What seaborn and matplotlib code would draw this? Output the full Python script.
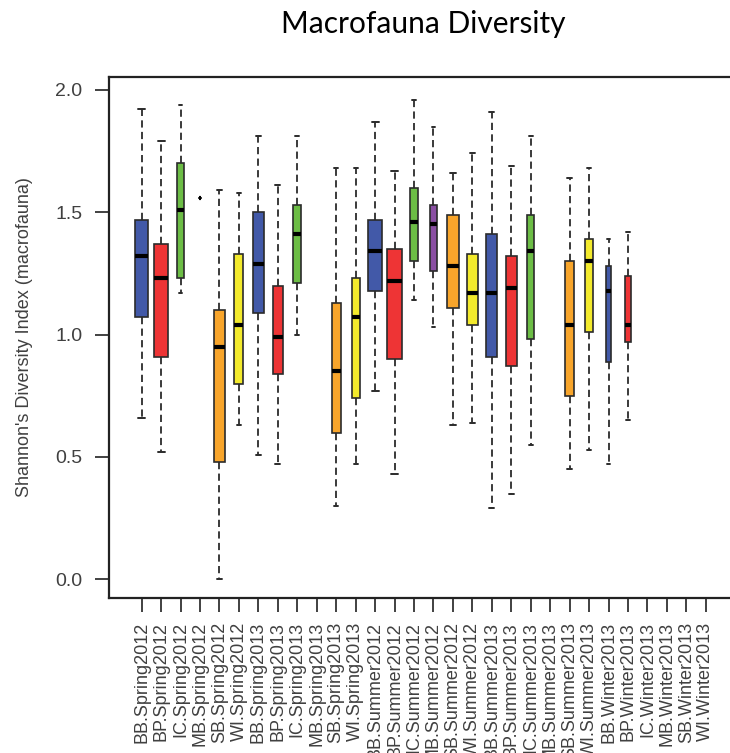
import numpy as np
import pandas as pd
import matplotlib
matplotlib.use("Agg")
import matplotlib.pyplot as plt
import seaborn as sns

# Sampling units: site x season/year
categories = [
    "BB.Spring2012", "BP.Spring2012", "IC.Spring2012", "MB.Spring2012", "SB.Spring2012", "WI.Spring2012",
    "BB.Spring2013", "BP.Spring2013", "IC.Spring2013", "MB.Spring2013", "SB.Spring2013", "WI.Spring2013",
    "BB.Summer2012", "BP.Summer2012", "IC.Summer2012", "MB.Summer2012", "SB.Summer2012", "WI.Summer2012",
    "BB.Summer2013", "BP.Summer2013", "IC.Summer2013", "MB.Summer2013", "SB.Summer2013", "WI.Summer2013",
    "BB.Winter2013", "BP.Winter2013", "IC.Winter2013", "MB.Winter2013", "SB.Winter2013", "WI.Winter2013",
]

nan = np.nan
# Five-number summaries of Shannon's H' (whisker ends, quartiles, median)
h_min = [0.66, 0.52, 1.17, 1.56, 0.00, 0.63, 0.51, 0.47, 1.00, nan, 0.30, 0.47,
         0.77, 0.43, 1.14, 1.03, 0.63, 0.64, 0.29, 0.35, 0.55, nan, 0.45, 0.53,
         0.47, 0.65, nan, nan, nan, nan]
h_q1 = [1.07, 0.91, 1.23, 1.56, 0.48, 0.80, 1.09, 0.84, 1.21, nan, 0.60, 0.74,
        1.18, 0.90, 1.30, 1.26, 1.11, 1.04, 0.91, 0.87, 0.98, nan, 0.75, 1.01,
        0.89, 0.97, nan, nan, nan, nan]
h_med = [1.32, 1.23, 1.51, 1.56, 0.95, 1.04, 1.29, 0.99, 1.41, nan, 0.85, 1.07,
         1.34, 1.22, 1.46, 1.45, 1.28, 1.17, 1.17, 1.19, 1.34, nan, 1.04, 1.30,
         1.18, 1.04, nan, nan, nan, nan]
h_q3 = [1.47, 1.37, 1.70, 1.56, 1.10, 1.33, 1.50, 1.20, 1.53, nan, 1.13, 1.23,
        1.47, 1.35, 1.60, 1.53, 1.49, 1.33, 1.41, 1.32, 1.49, nan, 1.30, 1.39,
        1.28, 1.24, nan, nan, nan, nan]
h_max = [1.92, 1.79, 1.94, 1.56, 1.59, 1.58, 1.81, 1.61, 1.81, nan, 1.68, 1.68,
         1.87, 1.67, 1.96, 1.85, 1.66, 1.74, 1.91, 1.69, 1.81, nan, 1.64, 1.68,
         1.39, 1.42, nan, nan, nan, nan]
# Number of samples per group (box width scales with sqrt(n))
n_samples = [25, 28, 8, 1, 17, 12, 18, 15, 9, 0, 11, 10,
             29, 36, 12, 7, 19, 16, 17, 18, 8, 0, 12, 10,
             4, 6, 0, 0, 0, 0]

site_colors = {
    "BB": "#4259A8", "BP": "#EE3435", "IC": "#6CBD45",
    "MB": "#8A4FA3", "SB": "#F8A52B", "WI": "#F3EA2C",
}

rows = []
for cat, a, b, c, d, e in zip(categories, h_min, h_q1, h_med, h_q3, h_max):
    if np.isnan(c):
        continue
    vals = [c] if a == e else [a, b, c, d, e]
    for v in vals:
        rows.append({"group": cat, "H": v})
df = pd.DataFrame(rows)

sns.set_style("ticks")
plt.rcParams["font.family"] = ["Liberation Sans", "DejaVu Sans"]

fig = plt.figure(figsize=(7.3, 7.53), dpi=100)
ax = fig.add_axes([0.1488, 0.2062, 0.8633, 0.6911])

edge = "#2b2b2b"
n_max = max(n_samples)
for cat, n in zip(categories, n_samples):
    sub = df[df["group"] == cat]
    if sub.empty:
        continue
    sns.boxplot(
        data=sub, x="group", y="H", order=categories, ax=ax,
        color=site_colors[cat.split(".")[0]], saturation=1,
        width=0.8 * np.sqrt(n / n_max), whis=(0, 100),
        linecolor=edge, linewidth=1.2,
        medianprops=dict(color="black", linewidth=3.0, solid_capstyle="butt"),
        whiskerprops=dict(color=edge, linewidth=1.3, linestyle=(0, (4, 2.4))),
        capprops=dict(color=edge, linewidth=1.4),
    )

ax.set_xlim(-1.7, 30.7)
ax.set_ylim(-0.075, 2.051)
ax.set_yticks([0.0, 0.5, 1.0, 1.5, 2.0])
ax.set_yticklabels(["0.0", "0.5", "1.0", "1.5", "2.0"])
ax.set_xticks(range(len(categories)))
ax.set_xticklabels(categories, rotation=90, va="top")

ax.tick_params(axis="both", colors="#333333", labelcolor="#404040",
               length=10, width=1.3)
ax.tick_params(axis="x", labelsize=13, pad=7.5)
ax.tick_params(axis="y", labelsize=14, pad=9)
for sp in ax.spines.values():
    sp.set_visible(True)
    sp.set_color("#222222")
    sp.set_linewidth(1.6)

ax.set_xlabel("")
ax.set_ylabel("Shannon's Diversity Index (macrofauna)", fontsize=13,
              color="#404040", labelpad=16)
ax.set_title("Macrofauna Diversity", fontsize=21.5, pad=32,
             family=["Lato", "DejaVu Sans"], color="black")

fig.savefig("out.png", dpi=100)
